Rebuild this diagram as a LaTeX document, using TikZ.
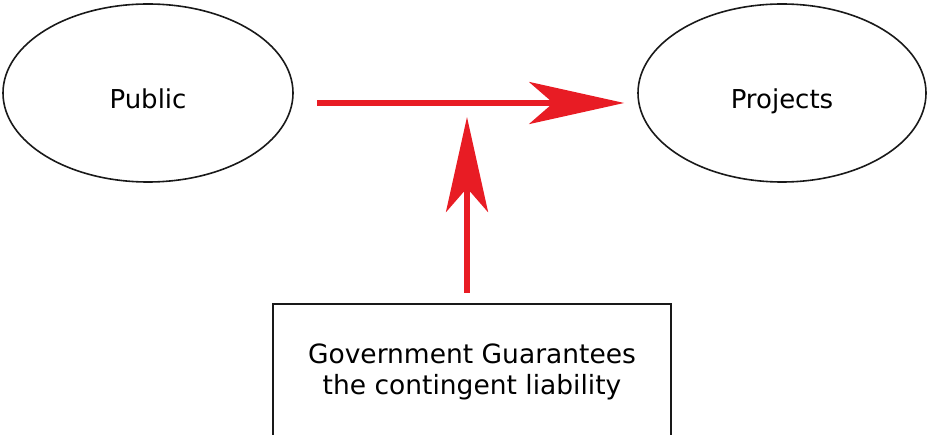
\documentclass[tikz,border=0pt]{standalone}
\usepackage{fontspec}
\setmainfont{DejaVu Sans}
\usetikzlibrary{shapes.geometric,arrows.meta,calc}
\definecolor{arrowred}{RGB}{232,28,36}
\tikzset{
  place/.style={draw=black!90, line width=1.6pt, ellipse, inner sep=0pt,
    minimum width=290pt, minimum height=178pt, text height=36pt, text depth=5pt,
    font=\fontsize{26}{31}\selectfont},
  flow/.style={draw=arrowred, line width=6pt,
    -{Stealth[length=95pt, width=42pt, inset=24pt, fill=arrowred]}},
}
\begin{document}
\begin{tikzpicture}[x=1pt,y=1pt]
\useasboundingbox (0,0) rectangle (928,-435);
\clip (0,0) rectangle (928,-435);

\node[place] (public) at (148,-93) {Public};
\node[place,minimum width=288pt] (projects) [right of=public,node distance=634pt] {Projects};

\node[draw=black!90, line width=1.6pt, minimum width=398pt, minimum height=136pt,
  align=center, anchor=north, font=\fontsize{26.5}{31}\selectfont] (box) at (472,-303)
  {Government Guarantees\\ the contingent liability};

\draw[flow, shorten <=23pt, shorten >=13pt]
  ([yshift=-10pt]public.east) -- ([yshift=-10pt]projects.west);
\draw[flow, shorten <=10pt, shorten >=14pt]
  ([xshift=-5pt]box.north) -- ($(box.north |- public.east)+(-5,-10)$);
\end{tikzpicture}
\end{document}
